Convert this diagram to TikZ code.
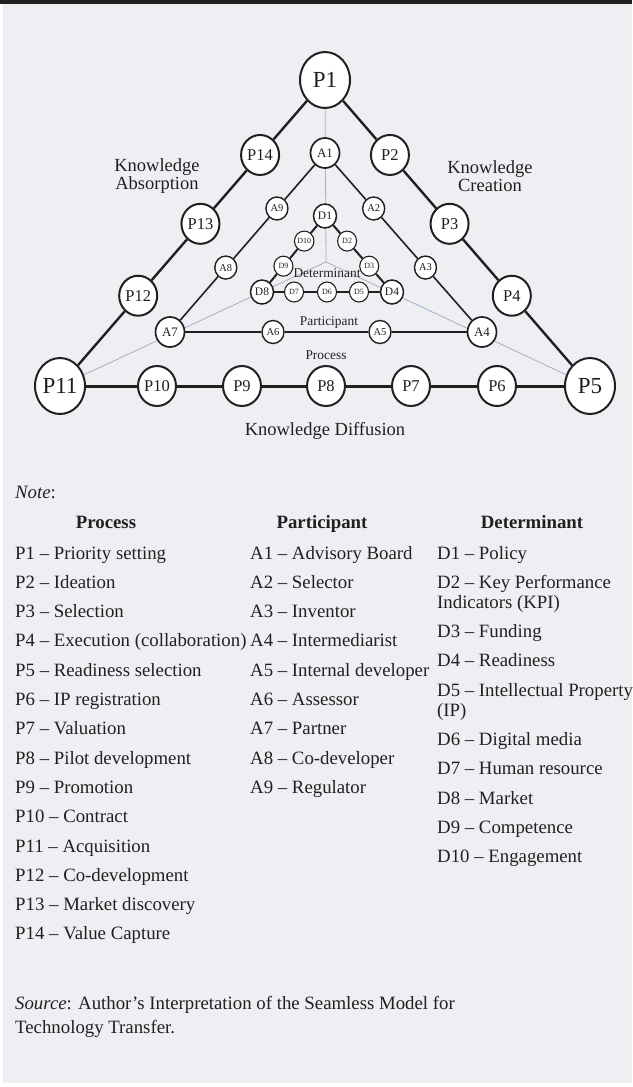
\documentclass[tikz,border=0pt]{standalone}
\usepackage{fontspec}
\setmainfont{Liberation Serif}
\usetikzlibrary{shapes.geometric,calc}

\definecolor{ink}{HTML}{231F20}
\definecolor{paper}{HTML}{EEEFF3}
\definecolor{guide}{HTML}{A9ACC8}
\newcommand{\fsz}[1]{\fontsize{#1}{#1}\selectfont}
\pgfdeclarelayer{bg}
\pgfsetlayers{bg,main}

\begin{document}
\begin{tikzpicture}[x=1pt,y=-1pt,
  dot/.style={ellipse,draw=ink,fill=white,text=ink,inner sep=0pt},
  pbig/.style={dot,line width=2pt,minimum width=50pt,minimum height=56pt,font=\fsz{23}},
  pnode/.style={dot,line width=2pt,minimum width=38pt,minimum height=40pt,font=\fsz{16.5}},
  abig/.style={dot,line width=1.7pt,minimum width=29pt,minimum height=30pt,font=\fsz{13}},
  anode/.style={dot,line width=1.4pt,minimum width=22pt,minimum height=23pt,font=\fsz{10.5}},
  dbig/.style={dot,line width=1.5pt,minimum width=23pt,minimum height=24pt,font=\fsz{11.5}},
  dnode/.style={dot,line width=1.1pt,minimum width=19pt,minimum height=20pt,font=\fsz{8}},
  rim/.style={draw=ink,line width=2.4pt},
  base/.style={draw=ink,line width=3pt},
  arm/.style={draw=ink,line width=1.6pt},
  core/.style={draw=ink,line width=2pt},
  guideline/.style={draw=guide,line width=0.8pt},
  lbl/.style={text=ink,font=\fsz{18.5},align=center,inner sep=0pt},
  tag/.style={text=ink,font=\fsz{13.4},inner sep=0pt},
  leg/.style={text=ink,font=\fsz{18.8},anchor=base west,inner sep=0pt},
  head/.style={text=ink,font=\bfseries\fsz{18.8},anchor=base,inner sep=0pt}
]
\useasboundingbox (0,0) rectangle (632,1087);
\begin{pgfonlayer}{bg}
  \fill[white] (0,0) rectangle (632,1087);
  \fill[paper] (3,4) rectangle (632,1083);
  \fill[ink] (0,0) rectangle (632,4);
\end{pgfonlayer}

% process ring
\node[pbig] (p1) at (325,80) {P1};
\node[pbig] (p11) at (60,386) {P11};
\node[pbig] (p5) at (590,386) {P5};
\foreach \n/\t in {14/0.245,13/0.47,12/0.705}
  \node[pnode] (p\n) at ($(p1)!\t!(p11)$) {P\n};
\foreach \n/\t in {2/0.245,3/0.47,4/0.705}
  \node[pnode] (p\n) at ($(p1)!\t!(p5)$) {P\n};
\foreach \n/\x in {10/157,9/242,8/326,7/411,6/497}
  \node[pnode] (p\n) at (\x,386) {P\n};

% participant ring
\node[abig] (a1) at (325,153) {A1};
\node[abig] (a7) at (170,332) {A7};
\node[abig] (a4) at (482,332) {A4};
\node[anode] (a9) at ($(a1)!0.31!(a7)$) {A9};
\node[anode] (a8) at ($(a1)!0.64!(a7)$) {A8};
\node[anode] (a2) at ($(a1)!0.31!(a4)$) {A2};
\node[anode] (a3) at ($(a1)!0.64!(a4)$) {A3};
\node[anode] (a6) at (273,332) {A6};
\node[anode] (a5) at (380,332) {A5};

% determinant ring
\node[dbig] (d1) at (325,216) {D1};
\node[dbig] (d8) at (262,292) {D8};
\node[dbig] (d4) at (392,292) {D4};
\node[dnode] (d10) at ($(d1)!0.33!(d8)$) {D10};
\node[dnode] (d9) at ($(d1)!0.66!(d8)$) {D9};
\node[dnode] (d2) at ($(d1)!0.33!(d4)$) {D2};
\node[dnode] (d3) at ($(d1)!0.66!(d4)$) {D3};
\node[dnode] (d7) at (294,292) {D7};
\node[dnode] (d6) at (327,292) {D6};
\node[dnode] (d5) at (359,292) {D5};

\coordinate (ctr) at (326,262);

\node[lbl] (absorb) at (157,176) {Knowledge\\[0pt]Absorption};
\node[lbl] (create) at (490,176) {Knowledge\\[0pt]Creation};
\node[lbl] (diffuse) at (325,431) {Knowledge Diffusion};
\node[tag] (tdet) at (327,273) {Determinant};
\node[tag] (tpar) at (329,322) {Participant};
\node[tag] (tpro) at (326,355) {Process};

\begin{pgfonlayer}{bg}
  \draw[guideline] (p1) -- (ctr);
  \draw[guideline] (p11) -- (ctr);
  \draw[guideline] (p5) -- (ctr);
  \draw[rim] (p1) -- (p14) -- (p13) -- (p12) -- (p11);
  \draw[rim] (p1) -- (p2) -- (p3) -- (p4) -- (p5);
  \draw[base] (p11) -- (p10) -- (p9) -- (p8) -- (p7) -- (p6) -- (p5);
  \draw[arm] (a1) -- (a9) -- (a8) -- (a7);
  \draw[arm] (a1) -- (a2) -- (a3) -- (a4);
  \draw[arm] (a7) -- (a6) -- (a5) -- (a4);
  \draw[core] (d1) -- (d10) -- (d9) -- (d8);
  \draw[core] (d1) -- (d2) -- (d3) -- (d4);
  \draw[core] (d8) -- (d7) -- (d6) -- (d5) -- (d4);
\end{pgfonlayer}

% legend
\node[leg] (note) at (15,498) {\textit{Note}:};
\node[head] (hpro) at (106,528) {Process};
\node[head] (hpar) at (322,528) {Participant};
\node[head] (hdet) at (532,528) {Determinant};
\foreach \t [count=\i] in {P1 -- Priority setting,P2 -- Ideation,P3 -- Selection,
    P4 -- Execution (collaboration),P5 -- Readiness selection,P6 -- IP registration,
    P7 -- Valuation,P8 -- Pilot development,P9 -- Promotion,P10 -- Contract,
    P11 -- Acquisition,P12 -- Co-development,P13 -- Market discovery,P14 -- Value Capture}
  \node[leg] (lp\i) at (15,{559+29.3*(\i-1)}) {\t};
\foreach \t [count=\i] in {A1 -- Advisory Board,A2 -- Selector,A3 -- Inventor,
    A4 -- Intermediarist,A5 -- Internal developer,A6 -- Assessor,A7 -- Partner,
    A8 -- Co-developer,A9 -- Regulator}
  \node[leg] (la\i) at (250,{559+29.3*(\i-1)}) {\t};
\foreach \t/\y [count=\i] in {D1 -- Policy/559,D2 -- Key Performance/588.3,
    Indicators (KPI)/608.3,D3 -- Funding/637.6,D4 -- Readiness/666.9,
    D5 -- Intellectual Property/696.2,(IP)/716.2,D6 -- Digital media/745.5,
    D7 -- Human resource/774.8,D8 -- Market/804.1,D9 -- Competence/833.4,
    D10 -- Engagement/862.7}
  \node[leg] (ld\i) at (437,\y) {\t};
\node[leg] (src1) at (15,1009) {\textit{Source}: Author’s Interpretation of the Seamless Model for};
\node[leg] (src2) at (15,1033) {Technology Transfer.};
\end{tikzpicture}
\end{document}
